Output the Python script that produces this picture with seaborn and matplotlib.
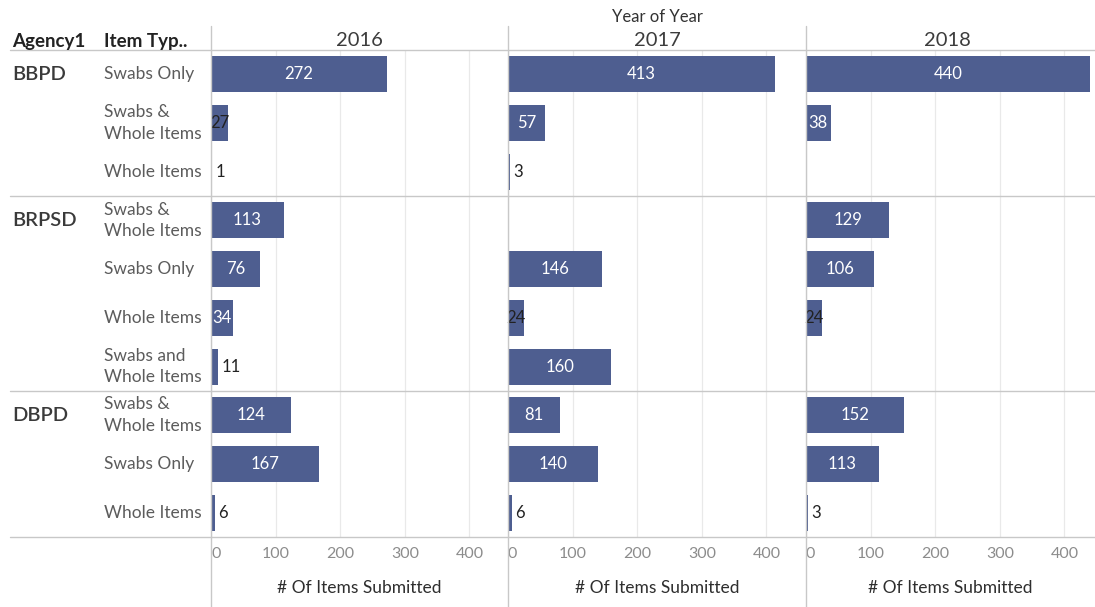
import numpy as np
import pandas as pd
import matplotlib
matplotlib.use("Agg")
import matplotlib.pyplot as plt
import matplotlib.transforms as mtransforms
from matplotlib.lines import Line2D
import seaborn as sns

# ---- data -------------------------------------------------------------
agencies = ["BBPD", "BRPSD", "DBPD"]
agency_rows = [3, 4, 3]
item_types = [
    "Swabs Only", "Swabs &\nWhole Items", "Whole Items",
    "Swabs &\nWhole Items", "Swabs Only", "Whole Items", "Swabs and\nWhole Items",
    "Swabs &\nWhole Items", "Swabs Only", "Whole Items",
]
years = ["2016", "2017", "2018"]
items_2016 = [272, 27, 1, 113, 76, 34, 11, 124, 167, 6]
items_2017 = [413, 57, 3, np.nan, 146, 24, 160, 81, 140, 6]
items_2018 = [440, 38, np.nan, 129, 106, 24, np.nan, 152, 113, 3]
x_ticks = [0, 100, 200, 300, 400]

# ---- style ------------------------------------------------------------
sns.set_theme(style="white")
plt.rcParams["font.family"] = ["Lato", "DejaVu Sans"]

BAR = "#4e5e90"
RULE = "#c8c8c8"
GRID = "#e9e9e9"

W, H = 1095, 607
fig = plt.figure(figsize=(W / 100, H / 100), dpi=100)
fig.patch.set_facecolor("white")


def fx(px):
    return px / W


def fy(py):
    return 1 - py / H


top_px, bot_px = 50, 537
pane_left = [211, 508, 806]
pane_right = [508, 806, 1095]
px_per_unit = 0.646

row_keys = [f"r{i}" for i in range(len(item_types))]
series = [items_2016, items_2017, items_2018]
records = []
for year, vals in zip(years, series):
    for key, v in zip(row_keys, vals):
        records.append({"year": year, "row": key, "count": v})
df = pd.DataFrame(records)

axes = []
for j, year in enumerate(years):
    l, r = pane_left[j], pane_right[j]
    ax = fig.add_axes([fx(l), fy(bot_px), (r - l) / W, (bot_px - top_px) / H])
    ax.patch.set_alpha(0)
    sub = df[df.year == year].dropna()
    sns.barplot(data=sub, x="count", y="row", order=row_keys, orient="h",
                color=BAR, saturation=1, width=0.74, linewidth=0, ax=ax)
    ax.set_xlim(0, (r - l) / px_per_unit)
    ax.set_ylim(len(row_keys) - 0.5, -0.5)
    ax.set_xticks(x_ticks)
    ax.set_xticklabels([str(t) for t in x_ticks])
    ax.get_xticklabels()[0].set_ha("left")
    ax.tick_params(axis="x", length=0, pad=7, labelsize=11.5, labelcolor="#8c8c8c")
    ax.set_yticks([])
    ax.set_ylabel("")
    ax.grid(axis="x", color=GRID, lw=0.9)
    ax.set_axisbelow(True)
    for s in ax.spines.values():
        s.set_visible(False)
    ax.set_xlabel("# Of Items Submitted", fontsize=12.5, color="#2e2e2e")
    ax.xaxis.label.set_va("center")
    ax.xaxis.set_label_coords(0.5, -(588 - bot_px) / (bot_px - top_px))

    # value labels
    for i, v in enumerate(series[j]):
        if np.isnan(v):
            continue
        txt = f"{int(v)}"
        if v >= 20:
            ax.text(v / 2, i, txt, ha="center", va="center", fontsize=12,
                    color="white" if v >= 30 else "#222222")
        else:
            ax.annotate(txt, xy=(v, i), xytext=(2.5, 0), textcoords="offset points",
                        ha="left", va="center", fontsize=12, color="#222222")

    # year header
    fig.text(fx((l + r) / 2 if j < 2 else (806 + 1089) / 2), fy(40), year,
             ha="center", va="center", fontsize=14.5, color="#3c3c3c")
    axes.append(ax)

ax0 = axes[0]
row_tr = mtransforms.blended_transform_factory(fig.transFigure, ax0.transData)

# row header labels
fig.text(fx(657), fy(17), "Year of Year", ha="center", va="center",
         fontsize=12, color="#333333")
fig.text(fx(12), fy(41), "Agency1", ha="left", va="center", fontsize=13.5,
         fontweight="bold", color="#222222")
fig.text(fx(104), fy(41), "Item Typ..", ha="left", va="center", fontsize=13.5,
         fontweight="bold", color="#222222")

for i, label in enumerate(item_types):
    fig.text(fx(104), i, label, transform=row_tr, ha="left", va="center",
             fontsize=12.5, color="#5c5c5c", linespacing=1.45)

start = 0
for name, n in zip(agencies, agency_rows):
    fig.text(fx(12), start, name, transform=row_tr, ha="left", va="center",
             fontsize=14.5, fontweight="semibold", color="#3a3a3a")
    start += n

# group separators
bounds = [-0.5]
acc = -0.5
for n in agency_rows:
    acc += n
    bounds.append(acc)
for b in bounds:
    fig.add_artist(Line2D([fx(10), 1], [b, b], transform=row_tr, color=RULE, lw=1))

# pane dividers
for l in pane_left:
    fig.add_artist(Line2D([fx(l), fx(l)], [fy(26), 0], transform=fig.transFigure,
                          color=RULE, lw=1))

fig.savefig("out.png", dpi=100, facecolor="white")
